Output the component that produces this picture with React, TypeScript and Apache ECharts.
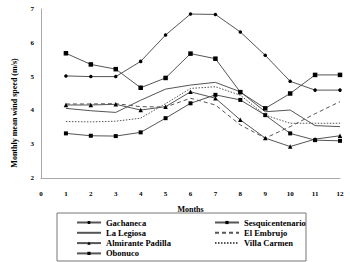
import React, { useEffect, useRef } from "react";
import * as echarts from "echarts";

const months = [1, 2, 3, 4, 5, 6, 7, 8, 9, 10, 11, 12];
const gachaneca = [5.02, 5.0, 5.0, 5.45, 6.23, 6.85, 6.84, 6.32, 5.63, 4.86, 4.6, 4.6];
const sesquicentenario = [5.69, 5.36, 5.22, 4.67, 4.96, 5.68, 5.53, 4.54, 4.06, 4.5, 5.05, 5.05];
const laLegiosa = [4.06, 3.99, 3.94, 4.3, 4.63, 4.75, 4.83, 4.55, 3.96, 4.01, 3.55, 3.52];
const elEmbrujo = [4.19, 4.19, 4.2, 4.11, 4.1, 4.36, 4.16, 3.57, 3.18, 3.52, 3.9, 4.26];
const almirantePadilla = [4.16, 4.16, 4.18, 4.01, 4.11, 4.55, 4.36, 3.72, 3.18, 2.93, 3.15, 3.25];
const villaCarmen = [3.67, 3.66, 3.68, 3.77, 4.2, 4.65, 4.7, 4.45, 3.86, 3.62, 3.62, 3.62];
const obonuco = [3.32, 3.25, 3.24, 3.35, 3.77, 4.21, 4.46, 4.31, 3.86, 3.32, 3.12, 3.1];

const FONT = "Liberation Serif";

function pts(vals: number[]) {
  return months.map((m, i) => [m, vals[i]]);
}

export default function App() {
  const ref = useRef<HTMLDivElement>(null);
  useEffect(() => {
    if (!ref.current) return;
    const chart = echarts.init(ref.current, undefined, { renderer: "svg" });
    const lineColor = "#555";
    const mk = (name: string, data: number[], symbol: string, size: number, type: any = "solid") => ({
      name,
      type: "line",
      data: pts(data),
      symbol,
      symbolSize: size,
      showSymbol: symbol !== "none",
      lineStyle: { color: lineColor, width: 1, type },
      itemStyle: { color: "#000" },
      z: 2,
    });
    const legendText = { fontFamily: FONT, fontWeight: "bold" as const, fontSize: 8.5, color: "#000" };
    const noSym = { opacity: 0 };
    const tickStyle = { fontFamily: FONT, fontWeight: "bold" as const, fontSize: 7, color: "#000" };
    chart.setOption({
      animation: false,
      color: ["#000"],
      grid: { left: 41, right: 10, top: 9, bottom: 84 },
      xAxis: {
        type: "value",
        min: 0,
        max: 12,
        interval: 1,
        name: "Months",
        nameLocation: "middle",
        nameGap: 27,
        nameTextStyle: { fontFamily: FONT, fontWeight: "bold", fontSize: 8, color: "#000" },
        axisLine: { onZero: false, lineStyle: { color: "#aaa" } },
        axisTick: { show: false },
        splitLine: { show: false },
        axisLabel: {
          ...tickStyle,
          margin: 12,
          showMinLabel: true,
          formatter: "{t|{value}}",
          rich: { t: { ...tickStyle } },
        },
      },
      yAxis: {
        type: "value",
        min: 2,
        max: 7,
        interval: 1,
        axisLine: { show: true, onZero: false, lineStyle: { color: "#aaa" } },
        axisTick: { show: false },
        splitLine: { show: false },
        axisLabel: { ...tickStyle, margin: 7 },
      },
      legend: [
        {
          data: [
            { name: "Gachaneca" },
            { name: "La Legiosa", itemStyle: noSym },
            { name: "Almirante Padilla" },
            { name: "Obonuco" },
          ],
          orient: "vertical",
          left: 76,
          top: 218,
          itemWidth: 24,
          itemHeight: 4,
          itemGap: 1.3,
          textStyle: legendText,
          padding: 0,
        },
        {
          data: [
            { name: "Sesquicentenario" },
            { name: "El Embrujo", itemStyle: noSym },
            { name: "Villa Carmen", itemStyle: noSym },
          ],
          orient: "vertical",
          left: 214,
          top: 218,
          itemWidth: 24,
          itemHeight: 4,
          itemGap: 1.3,
          textStyle: legendText,
          padding: 0,
        },
      ],
      graphic: [
        {
          type: "rect",
          shape: { x: 57, y: 213, width: 249, height: 48 },
          style: { fill: "none", stroke: "#777", lineWidth: 1 },
        },
        {
          type: "text",
          x: 14,
          y: 113,
          rotation: Math.PI / 2,
          style: {
            text: "Monthly mean wind speed (m/s)",
            fontFamily: FONT,
            fontWeight: "bold",
            fontSize: 8,
            fill: "#000",
            textAlign: "center",
            textVerticalAlign: "middle",
          },
        },
      ],
      series: [
        mk("Gachaneca", gachaneca, "circle", 3.5),
        mk("Sesquicentenario", sesquicentenario, "rect", 4.5),
        mk("La Legiosa", laLegiosa, "none", 0),
        mk("El Embrujo", elEmbrujo, "none", 0, [4, 3]),
        mk("Almirante Padilla", almirantePadilla, "triangle", 4.5),
        mk("Villa Carmen", villaCarmen, "none", 0, [1.5, 1.5]),
        mk("Obonuco", obonuco, "rect", 4),
      ],
    });
    return () => chart.dispose();
  }, []);
  return <div ref={ref} style={{ width: 350, height: 262, position: "absolute", left: 0, top: 0 }} />;
}
